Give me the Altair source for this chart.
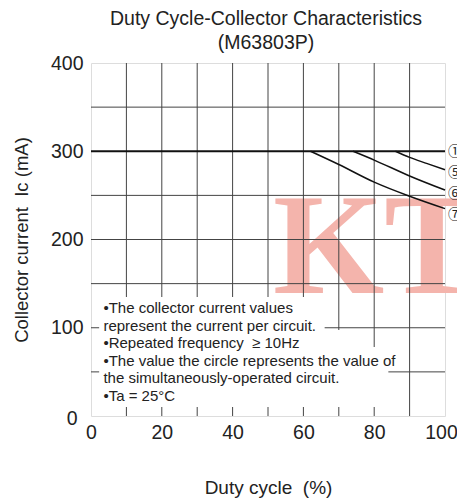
import altair as alt
import pandas as pd

# ---------------- data ----------------
duty_grid = [10, 20, 30, 40, 50, 60, 70, 80, 90]
ic_grid = [50, 100, 150, 200, 250, 350]
duty_labels = [0, 20, 40, 60, 80, 100]
ic_labels = [0, 100, 200, 300, 400]

s1_duty = [0, 100]
s1_ic = [300, 300]
s5_duty = [86, 90, 95, 100]
s5_ic = [300, 293, 286, 279]
s6_duty = [74, 80, 90, 100]
s6_ic = [300, 290, 272, 256]
s7_duty = [62, 70, 80, 90, 100]
s7_ic = [300, 285, 265, 249, 235]

label_names = ["①", "⑤", "⑥", "⑦"]
label_ic = [299, 275.5, 251.7, 228]

notes = [
    "•The collector current values",
    "\u2002represent the current per circuit.",
    "•Repeated frequency\u00a0 ≥ 10Hz",
    "•The value the circle represents the value of",
    "\u2002the simultaneously-operated circuit.",
    "•Ta = 25°C",
]

# white backing behind the notes (stepped outline)
box_x2 = [66, 76, 87.5, 84]
box_top = [134.8, 97.5, 78.2, 57]
box_bot = [97.5, 78.2, 57, 10.2]

# ---------------- tables ----------------
curves = pd.DataFrame({
    "duty": s5_duty + s6_duty + s7_duty,
    "ic": s5_ic + s6_ic + s7_ic,
    "series": ["5"] * len(s5_duty) + ["6"] * len(s6_duty) + ["7"] * len(s7_duty),
})
flat = pd.DataFrame({"duty": s1_duty, "ic": s1_ic})
labels = pd.DataFrame({"duty": [100] * len(label_names), "ic": label_ic, "name": label_names})
vgrid = pd.DataFrame({"duty": duty_grid})
hgrid = pd.DataFrame({"ic": ic_grid})
box = pd.DataFrame({"duty": [2.3] * len(box_x2), "duty2": box_x2, "ic": box_top, "ic2": box_bot})
one = pd.DataFrame({"k": [0]})

FONT = "Liberation Sans"
TXT = "#222222"

xs = alt.Scale(domain=[0, 100], nice=False, zero=False)
ys = alt.Scale(domain=[0, 400], nice=False, zero=False)

x_axis = alt.Axis(
    values=duty_labels, grid=False, domain=False, ticks=False,
    labelFont=FONT, labelFontSize=19.5, labelColor=TXT, labelPadding=7,
    labelFlush=False, labelOverlap=False,
    labelOffset={"condition": {"test": "datum.value == 100", "value": -4}, "value": 0},
    titleFont=FONT, titleFontSize=19, titleFontWeight="normal", titleColor=TXT,
    titleX=177, titleY=71, titleBaseline="middle", titleAlign="center",
)
y_axis = alt.Axis(
    values=ic_labels, grid=False, domain=False, ticks=False,
    labelFont=FONT, labelFontSize=19.5, labelColor=TXT,
    labelPadding={"condition": {"test": "datum.value == 0", "value": 14}, "value": 8},
    labelOffset={"condition": {"test": "datum.value == 0", "value": 2}, "value": 0},
    labelFlush=False, labelOverlap=False,
    titleFont=FONT, titleFontSize=18.5, titleFontWeight="normal", titleColor=TXT,
    titleAngle=270, titleX=-70, titleY=176.5, titleBaseline="middle", titleAlign="center",
)
XT = "Duty cycle\u00a0 (%)"
YT = "Collector current\u00a0 Ic (mA)"


def X(field):
    return alt.X(field, type="quantitative", scale=xs, axis=x_axis, title=XT)


def Y(field):
    return alt.Y(field, type="quantitative", scale=ys, axis=y_axis, title=YT)


watermark = alt.Chart(one).mark_text(
    text="KT", font="Liberation Serif", fontWeight="bold", fontSize=143,
    color="#f4b4ac", align="left", baseline="alphabetic",
).encode(
    x=alt.XDatum(51.4, type="quantitative", scale=xs, axis=x_axis, title=XT),
    y=alt.YDatum(139.4, type="quantitative", scale=ys, axis=y_axis, title=YT),
)

vrules = alt.Chart(vgrid).mark_rule(color="#444444", strokeWidth=1).encode(x=X("duty"))
hrules = alt.Chart(hgrid).mark_rule(color="#444444", strokeWidth=1).encode(y=Y("ic"))

backing = alt.Chart(box).mark_rect(fill="white").encode(
    x=X("duty"), x2="duty2", y=Y("ic"), y2="ic2"
)

flat_line = alt.Chart(flat).mark_line(color="#111111", strokeWidth=2.2).encode(
    x=X("duty"), y=Y("ic")
)
curve_lines = alt.Chart(curves).mark_line(
    color="#111111", strokeWidth=1.5, interpolate="monotone"
).encode(x=X("duty"), y=Y("ic"), detail="series:N")

circle_labels = alt.Chart(labels).mark_text(
    font="Noto Sans CJK JP", fontSize=14, color=TXT, align="left", baseline="middle", dx=3,
).encode(x=X("duty"), y=Y("ic"), text="name:N")

note_text = alt.Chart(one).mark_text(
    text=notes, font=FONT, fontSize=15, color=TXT, align="left",
    baseline="alphabetic", lineHeight=17.5,
).encode(
    x=alt.XDatum(3.5, type="quantitative", scale=xs, axis=x_axis, title=XT),
    y=alt.YDatum(116.5, type="quantitative", scale=ys, axis=y_axis, title=YT),
)

chart = alt.layer(
    watermark, vrules, hrules, backing, flat_line, curve_lines, circle_labels, note_text
).properties(
    width=354,
    height=353,
    autosize=alt.AutoSizeParams(type="none"),
    padding={"left": 83, "top": 55, "right": 12, "bottom": 83},
    title=alt.TitleParams(
        ["Duty Cycle-Collector Characteristics", "(M63803P)"],
        font=FONT, fontSize=19.5, fontWeight="normal", color=TXT,
        anchor="middle", frame="group", offset=0, lineHeight=24, dx=-2,
    ),
).configure_view(
    stroke="#222222", strokeWidth=2.2
).configure(background="white")

chart.save("out.html", embed_options={"renderer": "svg", "actions": False})
